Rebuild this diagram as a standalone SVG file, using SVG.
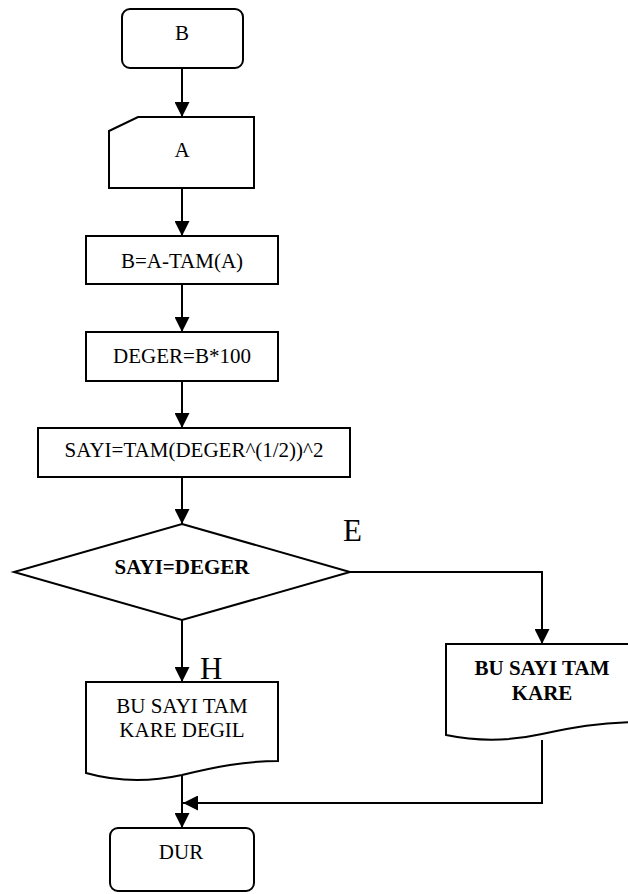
<svg xmlns="http://www.w3.org/2000/svg" width="628" height="894" viewBox="0 0 628 894">
  <style>
    .shape { fill: #ffffff; stroke: #000000; stroke-width: 2; stroke-linejoin: miter; }
    .wire { fill: none; stroke: #000000; stroke-width: 2; }
    .txt { font-family: "Liberation Serif", "Times New Roman", serif; font-size: 21px; fill: #000000; text-anchor: middle; }
    .bold { font-weight: bold; }
    .tag { font-family: "Liberation Serif", "Times New Roman", serif; font-size: 31px; fill: #000000; }
  </style>
  <defs>
    <marker id="arrow" viewBox="0 0 15 15" refX="15" refY="7.5" markerWidth="15" markerHeight="15" markerUnits="userSpaceOnUse" orient="auto">
      <path d="M0,0 L15,7.5 L0,15 z" fill="#000000"/>
    </marker>
  </defs>

  <rect width="628" height="894" fill="#ffffff"/>

  <!-- connectors -->
  <g id="connectors">
    <path class="wire" d="M182,68 V117" marker-end="url(#arrow)"/>
    <path class="wire" d="M182,188 V236" marker-end="url(#arrow)"/>
    <path class="wire" d="M182,284 V332" marker-end="url(#arrow)"/>
    <path class="wire" d="M182,381 V428" marker-end="url(#arrow)"/>
    <path class="wire" d="M182,477 V524" marker-end="url(#arrow)"/>
    <path class="wire" d="M350,572 H542 V644" marker-end="url(#arrow)"/>
    <path class="wire" d="M182,620 V682" marker-end="url(#arrow)"/>
    <path class="wire" d="M182,775 V828" marker-end="url(#arrow)"/>
    <path class="wire" d="M542,740 V803 H183" marker-end="url(#arrow)"/>
    <text class="tag" x="343" y="541">E</text>
    <text class="tag" x="200" y="679">H</text>
  </g>

  <!-- start terminal -->
  <g id="start">
    <rect class="shape" x="122" y="9" width="121" height="59" rx="8" ry="8"/>
    <text class="txt" x="182" y="40">B</text>
  </g>

  <!-- manual input -->
  <g id="input-a">
    <path class="shape" d="M109,131 L138,117 H254 V188 H109 Z"/>
    <text class="txt" x="182" y="157">A</text>
  </g>

  <g id="calc-b">
    <rect class="shape" x="86" y="236" width="192" height="48"/>
    <text class="txt" x="182" y="268">B=A-TAM(A)</text>
  </g>

  <g id="calc-deger">
    <rect class="shape" x="86" y="332" width="192" height="49"/>
    <text class="txt" x="182" y="363">DEGER=B*100</text>
  </g>

  <g id="calc-sayi">
    <rect class="shape" x="38" y="428" width="312" height="49"/>
    <text class="txt" x="194" y="457">SAYI=TAM(DEGER^(1/2))^2</text>
  </g>

  <!-- decision -->
  <g id="decision">
    <path class="shape" d="M182,524 L350,572 L182,620 L14,572 Z"/>
    <text class="txt bold" x="182" y="574">SAYI=DEGER</text>
  </g>

  <!-- output documents -->
  <g id="out-not-square">
    <path class="shape" d="M86,682 H278 V761 C245,761 215,767 182,775 C150,782 118,782 86,773 Z"/>
    <text class="txt" x="182" y="713">BU SAYI TAM</text>
    <text class="txt" x="182" y="737">KARE DEGIL</text>
  </g>

  <g id="out-square">
    <path class="shape" d="M446,644 H638 V722 C600,722 570,728 542,734 C515,740 480,742 446,735 Z"/>
    <text class="txt bold" x="542" y="675">BU SAYI TAM</text>
    <text class="txt bold" x="542" y="700">KARE</text>
  </g>

  <!-- end terminal -->
  <g id="end">
    <rect class="shape" x="110" y="828" width="144" height="63" rx="8" ry="8"/>
    <text class="txt" x="181" y="859">DUR</text>
  </g>
</svg>
